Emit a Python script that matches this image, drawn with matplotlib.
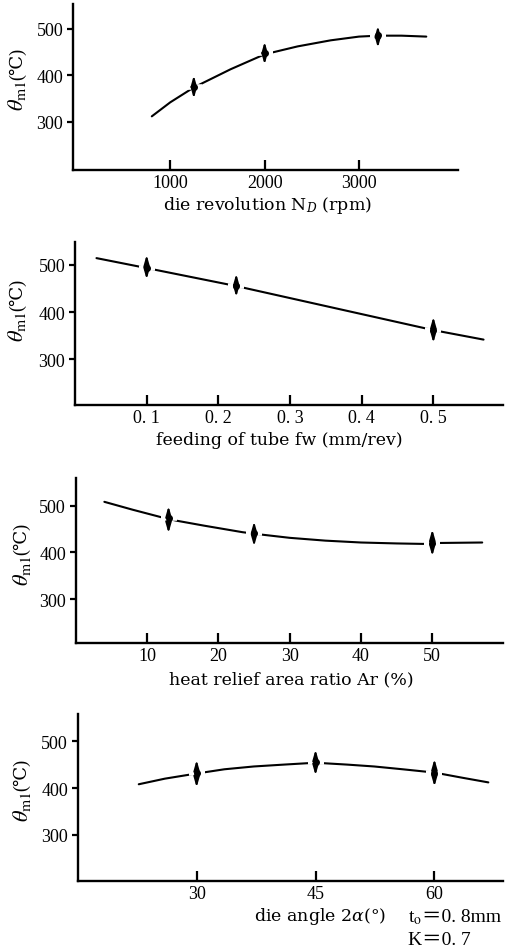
import matplotlib
matplotlib.use("Agg")
import matplotlib.pyplot as plt

plt.rcParams["font.family"] = ["Liberation Serif", "DejaVu Serif", "Noto Sans CJK JP"]
plt.rcParams["mathtext.fontset"] = "stix"

# Panel 1: die revolution
nd_curve_x = [805, 1000, 1250, 1640, 2000, 2350, 2700, 3000, 3200, 3450, 3713]
nd_curve_y = [312, 342, 374, 413, 445, 462, 475, 483, 485, 485, 483]
nd_pts = [1250, 2000, 3200]
nd_mid = [374, 447, 486]
nd_lo = [350, 423, 459]
nd_hi = [400, 472, 506]

# Panel 2: feeding of tube
fw_curve_x = [0.03, 0.1, 0.225, 0.5, 0.57]
fw_curve_y = [514, 493, 455, 362, 342]
fw_pts = [0.1, 0.225, 0.5]
fw_mid = [493, 455, 362]
fw_lo = [469, 432, 335]
fw_hi = [521, 481, 390]

# Panel 3: heat relief area ratio
ar_curve_x = [4, 8, 12, 14, 18, 23.4, 26, 30, 35, 40, 45, 48.7, 51, 57]
ar_curve_y = [508, 491, 475, 468, 457, 443, 438, 431, 425, 421, 419, 418, 420, 421]
ar_pts = [13, 25, 50]
ar_mid = [473, 441, 421]
ar_lo = [441, 413, 392]
ar_hi = [499, 466, 449]

# Panel 4: die angle
da_curve_x = [22.7, 26, 30, 33.5, 37.2, 41, 44, 46, 49, 52.4, 56, 60, 63.5, 66.8]
da_curve_y = [408, 420, 431, 440, 446, 450, 453, 453, 450, 446, 440, 433, 422, 412]
da_pts = [30, 45, 60]
da_mid = [431, 455, 433]
da_lo = [401, 427, 403]
da_hi = [460, 482, 462]

panels = [
    dict(cx=nd_curve_x, cy=nd_curve_y, px=nd_pts, mid=nd_mid, lo=nd_lo, hi=nd_hi,
         xlim=(-30, 4050), ylim=(197, 553), xticks=[1000, 2000, 3000],
         xticklabels=["1000", "2000", "3000"],
         xlabel=r"die revolution N$_D$ (rpm)",
         rect=[0.1434, 0.8206, 0.7566, 0.1742], ylab=(-0.145, 0.452), xlab=(0.504, -0.205)),
    dict(cx=fw_curve_x, cy=fw_curve_y, px=fw_pts, mid=fw_mid, lo=fw_lo, hi=fw_hi,
         xlim=(0, 0.597), ylim=(204, 548), xticks=[0.1, 0.2, 0.3, 0.4, 0.5],
         xticklabels=["0. 1", "0. 2", "0. 3", "0. 4", "0. 5"],
         xlabel="feeding of tube fw (mm/rev)",
         rect=[0.1473, 0.574, 0.8407, 0.171], ylab=(-0.135, 0.485), xlab=(0.477, -0.21)),
    dict(cx=ar_curve_x, cy=ar_curve_y, px=ar_pts, mid=ar_mid, lo=ar_lo, hi=ar_hi,
         xlim=(0, 59.9), ylim=(206, 559), xticks=[10, 20, 30, 40, 50],
         xticklabels=["10", "20", "30", "40", "50"],
         xlabel="heat relief area ratio Ar (%)",
         rect=[0.149, 0.3242, 0.839, 0.1732], ylab=(-0.127, 0.448), xlab=(0.505, -0.218)),
    dict(cx=da_curve_x, cy=da_curve_y, px=da_pts, mid=da_mid, lo=da_lo, hi=da_hi,
         xlim=(15, 68.7), ylim=(202, 558), xticks=[30, 45, 60],
         xticklabels=["30", "45", "60"],
         xlabel=r"die angle 2$\alpha$(°)",
         rect=[0.1527, 0.0748, 0.8363, 0.1749], ylab=(-0.131, 0.454), xlab=(0.569, -0.21)),
]

fig = plt.figure(figsize=(5.09, 9.53), dpi=100)

for p in panels:
    ax = fig.add_axes(p["rect"])
    ax.plot(p["cx"], p["cy"], color="black", lw=1.5, zorder=2,
            solid_joinstyle="round", solid_capstyle="round")
    # gap in the curve around each measured point
    ax.plot(p["px"], p["mid"], linestyle="none", marker="_", color="white",
            markersize=11, markeredgewidth=4, zorder=3)
    for x, lo, hi in zip(p["px"], p["lo"], p["hi"]):
        ax.annotate("", xy=(x, hi), xytext=(x, lo), zorder=4,
                    arrowprops=dict(arrowstyle="<|-|>,head_length=0.6,head_width=0.17",
                                    color="black", lw=1.4, shrinkA=0, shrinkB=0,
                                    mutation_scale=10))
    ax.scatter(p["px"], p["mid"], s=16, color="black", zorder=5)

    ax.set_xlim(*p["xlim"])
    ax.set_ylim(*p["ylim"])
    ax.set_xticks(p["xticks"])
    ax.set_xticklabels(p["xticklabels"])
    ax.set_yticks([300, 400, 500])
    for s in ["top", "right"]:
        ax.spines[s].set_visible(False)
    for s in ["left", "bottom"]:
        ax.spines[s].set_linewidth(1.7)
    ax.tick_params(axis="x", direction="in", length=7, width=1.6, labelsize=13, pad=3)
    ax.tick_params(axis="y", direction="out", length=4, width=1.6, labelsize=13, pad=3)

    ylab = ax.set_ylabel(r"$\theta_{\mathrm{m1}}$", fontsize=16)
    ax.yaxis.set_label_coords(*p["ylab"])
    ylab.set_va("center")
    ax.annotate("(℃)", xy=(0.5, 1.0), xycoords=ylab, rotation=90,
                ha="center", va="bottom", fontsize=13)
    xl = ax.set_xlabel(p["xlabel"], fontsize=12.5, family="DejaVu Serif",
                       math_fontfamily="dejavuserif")
    ax.xaxis.set_label_coords(*p["xlab"])
    xl.set_va("center")

fig.text(408 / 509, 1 - 922 / 953, r"t$_\mathrm{o}$", fontsize=14, va="baseline", ha="left")
fig.text(422 / 509, 1 - 922 / 953, "＝0. 8mm", fontsize=14, va="baseline", ha="left")
fig.text(408 / 509, 1 - 945 / 953, "K＝0. 7", fontsize=14, va="baseline", ha="left")

fig.savefig("out.png", dpi=100)
